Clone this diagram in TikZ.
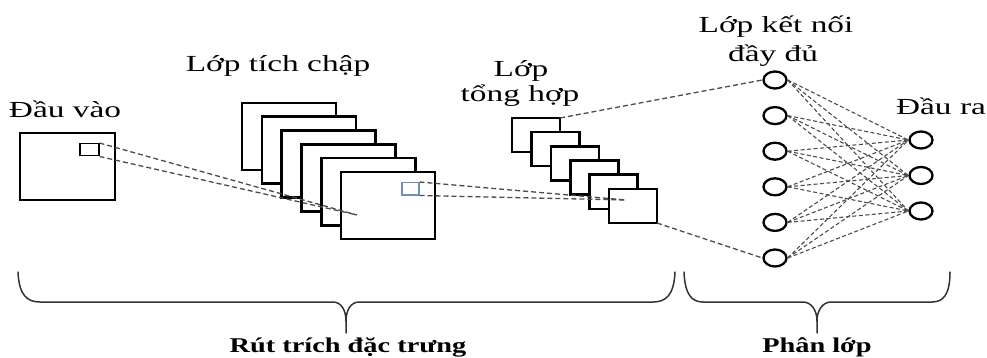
\documentclass[tikz,border=0pt]{standalone}
\usepackage{fontspec}
\setmainfont{Liberation Serif}
\newfontfamily\lbl{Liberation Serif}[FakeStretch=1.45]
\newfontfamily\blbl{Liberation Serif}[FakeStretch=1.35]
\usetikzlibrary{shapes.geometric}
\definecolor{blueish}{HTML}{6F8FB8}
\definecolor{dashgray}{gray}{0.3}
\tikzset{
  fmap/.style={draw=black, fill=white, line width=2.6pt, inner sep=0pt, outer sep=0pt, anchor=north west},
  conv/.style={fmap, minimum width=94pt, minimum height=67pt},
  pool/.style={fmap, minimum width=48pt, minimum height=34pt},
  neuron/.style={ellipse, draw=black, fill=white, line width=2.3pt, minimum width=23pt, minimum height=17pt, inner sep=0pt},
  link/.style={draw=dashgray, line width=1.3pt, dash pattern=on 5pt off 3pt},
  flink/.style={draw=dashgray, line width=1.1pt, dash pattern=on 4pt off 2.5pt},
  brace/.style={draw=black!80, line width=1.5pt, line cap=round},
  lab/.style={font=\lbl\fontsize{23}{25}\selectfont, anchor=base, inner sep=0pt},
  blab/.style={font=\blbl\fontsize{21}{23}\selectfont\bfseries, anchor=base, inner sep=0pt}
}
\begin{document}
\begin{tikzpicture}[x=1pt,y=-1pt]
\useasboundingbox (0,0) rectangle (987,358);

% input
\node[fmap, minimum width=95pt, minimum height=67pt] (in) at (20,133) {};
\node[draw=black, line width=1.5pt, minimum width=19pt, minimum height=12pt, inner sep=0pt, anchor=north west] (win) at (79,143) {};

% convolution stack
\foreach \i in {0,...,5}
  \node[conv] (c\i) at ({242+19.8*\i},{103+13.8*\i}) {};
\node[draw=blueish, line width=1.5pt, minimum width=17pt, minimum height=12pt, inner sep=0pt, anchor=north west] (cb) at (401,182) {};

% pooling stack
\foreach \i in {0,...,5}
  \node[pool] (p\i) at ({512+19.4*\i},{118+14.2*\i}) {};

% fully connected
\foreach \i/\y in {0/80,1/115.6,2/151.2,3/186.8,4/222.4,5/258}
  \node[neuron] (f\i) at (775,\y) {};
\foreach \j/\y in {0/140,1/175.5,2/211}
  \node[neuron] (o\j) at (921,\y) {};

% receptive field lines
\coordinate (q1) at (357,215);
\coordinate (q2) at (626,200);
\draw[link] (win.north east) -- (q1);
\draw[link] (win.south east) -- (q1);
\draw[link] (cb.north east) -- (q2);
\draw[link] (cb.south east) -- (q2);
\draw[link] (p0.north east) -- (f0.west);
\draw[link] (p5.south east) -- (f5.west);

\foreach \i in {0,...,5}
  \foreach \j in {0,1,2}
    \draw[flink] (f\i.east) -- (o\j.west);

% labels
\node[lab] (tin) at (65,118) {Đầu vào};
\node[lab] (tconv) at (278,72) {Lớp tích chập};
\node[lab] (tpool1) at (521,77) {Lớp};
\node[lab] (tpool2) at (520,102) {tổng hợp};
\node[lab] (tfc1) at (776,33) {Lớp kết nối};
\node[lab] (tfc2) at (773,62) {đầy đủ};
\node[lab] (tout) at (941,115) {Đầu ra};

% braces
\draw[brace] (18,272) .. controls (19,295) and (27,302) .. (40,302) -- (333,302)
  .. controls (341,302) and (346,310) .. (346,321) -- (346,333);
\draw[brace] (346,321) .. controls (346,310) and (351,302) .. (359,302) -- (653,302)
  .. controls (666,302) and (674,295) .. (675,272);
\draw[brace] (684,272) .. controls (685,295) and (692,302) .. (703,302) -- (803,302)
  .. controls (811,302) and (817,310) .. (817,321) -- (817,333);
\draw[brace] (817,321) .. controls (817,310) and (823,302) .. (831,302) -- (932,302)
  .. controls (943,302) and (950,295) .. (950,272);

\node[blab] (tfe) at (348,352) {Rút trích đặc trưng};
\node[blab] (tcl) at (817,352) {Phân lớp};
\end{tikzpicture}
\end{document}
